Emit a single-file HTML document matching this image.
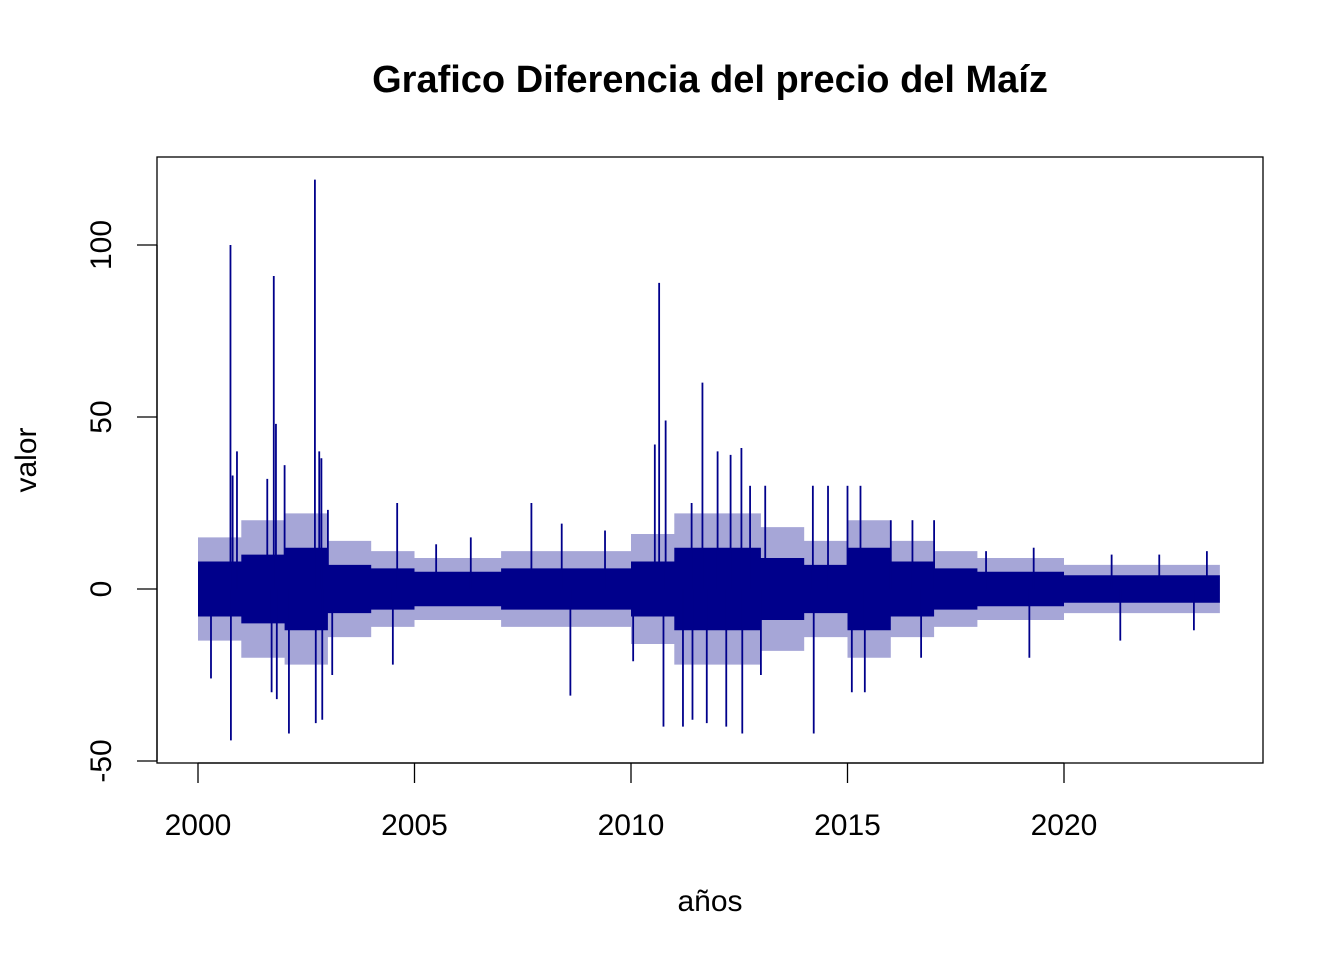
<!DOCTYPE html>
<html><head><meta charset="utf-8">
<style>
html,body{margin:0;padding:0;background:#fff;}
svg{display:block;font-family:"Liberation Sans",Arial,sans-serif;}
</style></head>
<body>
<svg id="chart" width="1344" height="960">
  <text x="710" y="92" text-anchor="middle" font-size="38" font-weight="bold">Grafico Diferencia del precio del Maíz</text>
  <rect x="157" y="157" width="1106" height="606" fill="none" stroke="#000" stroke-width="1.3"/>
  <g id="series"></g>
  <g id="xaxis"></g>
  <g id="yaxis"></g>
  <text x="710" y="911" text-anchor="middle" font-size="30">años</text>
  <text x="0" y="0" transform="translate(36,460) rotate(-90)" text-anchor="middle" font-size="30">valor</text>
</svg>
<script>
const years = [2000,2001,2002,2003,2004,2005,2006,2007,2008,2009,2010,2011,2012,2013,2014,2015,2016,2017,2018,2019,2020,2021,2022,2023];
const bodyAmp = [8,10,12,7,6,5,5,6,6,6,8,12,12,9,7,12,8,6,5,5,4,4,4,4];
const outerAmp = [15,20,22,14,11,9,9,11,11,11,16,22,22,18,14,20,14,11,9,9,7,7,7,7];
const spikeDates = [2000.75,2001.75,2002.7,2002.8,2002.85,2000.9,2000.8,2001.8,2002.0,2001.6,2003.0,2004.6,2007.7,2010.65,2010.55,2010.8,2011.65,2011.4,2012.0,2012.3,2012.55,2012.75,2013.1,2014.2,2014.55,2015.0,2015.3,2016.0,2016.5,2017.0,2018.2,2019.3,2021.1,2022.2,2023.3,2008.4,2009.4,2006.3,2005.5,
 2000.76,2000.3,2001.7,2001.82,2002.1,2002.72,2002.87,2003.1,2004.5,2008.6,2010.05,2010.75,2011.2,2011.42,2011.75,2012.2,2012.57,2013.0,2014.22,2015.1,2015.4,2016.7,2019.2,2021.3,2023.0];
const spikeValues = [100,91,119,40,38,40,33,48,36,32,23,25,25,89,42,49,60,25,40,39,41,30,30,30,30,30,30,20,20,20,11,12,10,10,11,19,17,15,13,
 -44,-26,-30,-32,-42,-39,-38,-25,-22,-31,-21,-40,-40,-38,-39,-40,-42,-25,-42,-30,-30,-20,-20,-15,-12];
const endYear = 2023.6;
const xTicks = [2000,2005,2010,2015,2020];
const yTicks = [-50,0,50,100];

const NS="http://www.w3.org/2000/svg";
const X = t => 198 + (t-2000)*(1064-198)/20;
const Y = v => 589 - v*(589-417)/50;
const col="#00008B";
const series=document.getElementById('series');
function line(g,x1,y1,x2,y2,c,w){const l=document.createElementNS(NS,'line');
l.setAttribute('x1',x1);l.setAttribute('y1',y1);l.setAttribute('x2',x2);l.setAttribute('y2',y2);
l.setAttribute('stroke',c);l.setAttribute('stroke-width',w);g.appendChild(l);return l;}
function band(amps,name,op){
  let top=[],bot=[];
  years.forEach((y,i)=>{const a=y,b=Math.min(y+1,endYear);
    top.push(X(a)+','+Y(amps[i]));top.push(X(b)+','+Y(amps[i]));
    bot.unshift(X(a)+','+Y(-amps[i]));bot.unshift(X(b)+','+Y(-amps[i]));});
  const p=document.createElementNS(NS,'polygon');
  p.setAttribute('points',top.concat(bot).join(' '));
  p.setAttribute('fill',col);
  p.setAttribute('fill-opacity',op);
  
  
  series.appendChild(p);
}
band(outerAmp,'outer-band',0.35);
band(bodyAmp,'body-band',1);
spikeDates.forEach((d,i)=>{
  const l=line(series,X(d),Y(0),X(d),Y(spikeValues[i]),col,1.8);
  
  
});
const xa=document.getElementById('xaxis');
line(xa,X(2000),763,X(2020),763,'#000',1.3);
xTicks.forEach(t=>{
  const l=line(xa,X(t),763,X(t),783,'#000',1.3);
  
  
  const tx=document.createElementNS(NS,'text');
  tx.setAttribute('x',X(t));tx.setAttribute('y',835);tx.setAttribute('text-anchor','middle');tx.setAttribute('font-size','30');
  tx.textContent=t;
  
  
  xa.appendChild(tx);
});
const ya=document.getElementById('yaxis');
line(ya,157,Y(-50),157,Y(100),'#000',1.3);
yTicks.forEach(v=>{
  const l=line(ya,137,Y(v),157,Y(v),'#000',1.3);
  
  
  const tx=document.createElementNS(NS,'text');
  tx.setAttribute('transform','translate(111,'+Y(v)+') rotate(-90)');
  tx.setAttribute('text-anchor','middle');tx.setAttribute('font-size','30');
  tx.textContent=v;
  
  
  ya.appendChild(tx);
});
</script>
</body></html>
